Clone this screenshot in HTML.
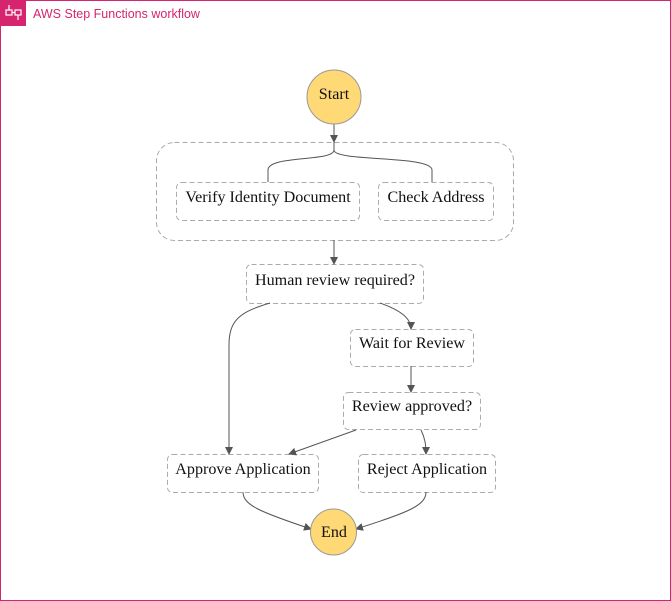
<!DOCTYPE html>
<html><head><style>
html,body{margin:0;padding:0;background:#fff;}
svg{display:block;}
text{font-family:"Liberation Serif",serif;font-size:16.1px;fill:#111;}
</style></head><body>
<svg width="671" height="601" viewBox="0 0 671 601">
<defs><marker id="a" markerWidth="8" markerHeight="8" refX="7" refY="4" orient="auto" markerUnits="userSpaceOnUse"><path d="M0,0 L8,4 L0,8 z" fill="#555"/></marker></defs>
<rect x="0.5" y="0.5" width="670" height="600" fill="#fff" stroke="#d6246e" stroke-width="1"/>
<rect x="0" y="0" width="26" height="26" fill="#d6246e"/>
<g stroke="#fff" stroke-width="1.2" fill="none"><rect x="6" y="10" width="6" height="5"/><rect x="15" y="10" width="6" height="5"/><path d="M9 5v5M18 15v5M12 12.5h3"/></g>
<text x="33" y="18" style="font-family:'Liberation Sans',sans-serif;font-size:12.5px;fill:#d6246e">AWS Step Functions workflow</text>
<g stroke="#aaa" stroke-dasharray="5,3" fill="none" stroke-width="1">
<rect x="156.5" y="142.5" width="357" height="98" rx="18"/>
<rect x="176.5" y="182.5" width="183" height="38" rx="5"/>
<rect x="378.5" y="182.5" width="115" height="38" rx="5"/>
<rect x="246.5" y="264.5" width="177" height="39" rx="5"/>
<rect x="350.5" y="329.5" width="123" height="37" rx="5"/>
<rect x="343.5" y="392.5" width="137" height="37" rx="5"/>
<rect x="167.5" y="454.5" width="151" height="38" rx="5"/>
<rect x="358.5" y="454.5" width="137" height="38" rx="5"/>
</g>
<g stroke="#555" fill="none" stroke-width="1">
<path d="M334 121 V142" marker-end="url(#a)"/>
<path d="M334 142 V150 C334 162 268 155 268 170 V182"/>
<path d="M334 150 C334 162 432 155 432 170 V182"/>
<path d="M334 240 V264" marker-end="url(#a)"/>
<path d="M270 303 C240 312 229 320 229 345 V454" marker-end="url(#a)"/>
<path d="M380 303 C400 310 411 318 411 329" marker-end="url(#a)"/>
<path d="M411 366 V392" marker-end="url(#a)"/>
<path d="M356 430 L289 454" marker-end="url(#a)"/>
<path d="M421 430 C425 438 426 445 426 454" marker-end="url(#a)"/>
<path d="M243 492 C243 505 260 512 311 529" marker-end="url(#a)"/>
<path d="M426 492 C426 505 410 512 356 529" marker-end="url(#a)"/>
</g>
<circle cx="334" cy="97" r="27" fill="#fed976" stroke="#999"/>
<circle cx="333.5" cy="532" r="23" fill="#fed976" stroke="#999"/>
<g text-anchor="middle">
<text x="334" y="99">Start</text>
<text x="334" y="537">End</text>
<text x="268" y="202">Verify Identity Document</text>
<text x="436" y="202">Check Address</text>
<text x="335" y="285">Human review required?</text>
<text x="412" y="348">Wait for Review</text>
<text x="412" y="411">Review approved?</text>
<text x="243" y="474">Approve Application</text>
<text x="427" y="474">Reject Application</text>
</g>
</svg>
</body></html>
